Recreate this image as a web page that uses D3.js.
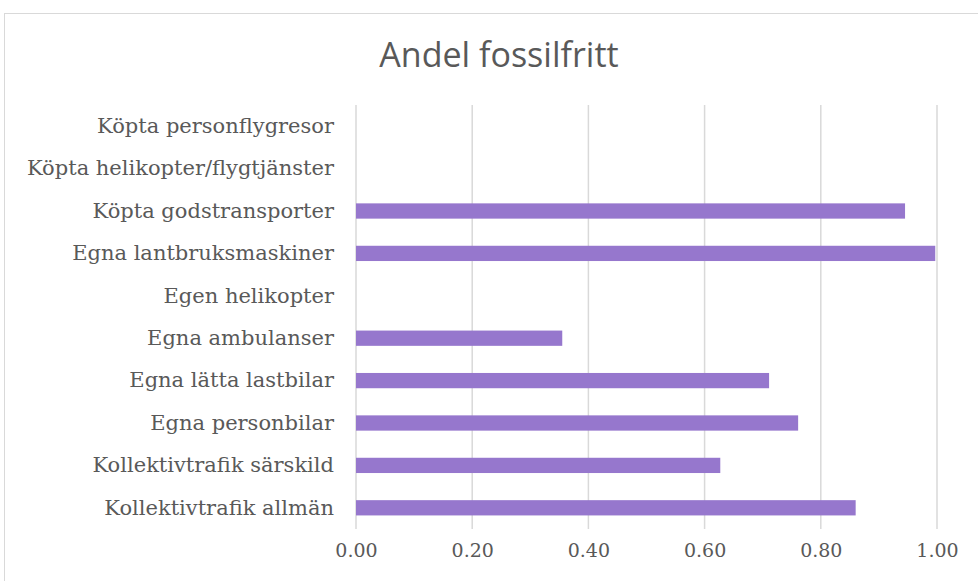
<!DOCTYPE html>
<html>
<head>
<meta charset="utf-8">
<script src="https://cdn.jsdelivr.net/npm/d3@7"></script>
<style>
    body { margin: 0; background: #fff; }
    svg { display: block; }
</style>
</head>
<body>
<script>
// Data (top to bottom)
const categories = [
    'Köpta personflygresor',
    'Köpta helikopter/flygtjänster',
    'Köpta godstransporter',
    'Egna lantbruksmaskiner',
    'Egen helikopter',
    'Egna ambulanser',
    'Egna lätta lastbilar',
    'Egna personbilar',
    'Kollektivtrafik särskild',
    'Kollektivtrafik allmän'
];
const values = [null, null, 0.945, 0.997, null, 0.355, 0.711, 0.761, 0.627, 0.86];
const xTicks = [0, 0.2, 0.4, 0.6, 0.8, 1.0];

const width = 978, height = 581;
const margin = {top: 105, right: 41, bottom: 52, left: 356};

const svg = d3.select('body').append('svg')
    .attr('width', width)
    .attr('height', height);

// chart frame
svg.append('rect')
    .attr('x', 4.5).attr('y', 13.5)
    .attr('width', 990).attr('height', 600)
    .attr('fill', '#fff')
    .attr('stroke', '#d9d9d9');

svg.append('text')
    .attr('x', 499).attr('y', 67)
    .attr('text-anchor', 'middle')
    .attr('font-family', 'Open Sans, sans-serif')
    .attr('font-size', 34)
    .attr('fill', '#595959')
    .text('Andel fossilfritt');

const x = d3.scaleLinear()
    .domain([0, 1])
    .range([margin.left, width - margin.right]);

const y = d3.scaleBand()
    .domain(categories)
    .range([margin.top, height - margin.bottom])
    .paddingInner(0.64)
    .paddingOuter(0.32);

// gridlines
svg.append('g')
    .selectAll('line')
    .data(xTicks)
    .join('line')
    .attr('x1', d => x(d)).attr('x2', d => x(d))
    .attr('y1', margin.top).attr('y2', height - margin.bottom)
    .attr('stroke', '#d9d9d9')
    .attr('stroke-width', 1.5);

// bars
svg.append('g')
    .selectAll('rect')
    .data(categories.map((c, i) => ({c, v: values[i]})).filter(d => d.v != null))
    .join('rect')
    .attr('x', x(0))
    .attr('y', d => y(d.c))
    .attr('width', d => x(d.v) - x(0))
    .attr('height', y.bandwidth())
    .attr('fill', '#9677cd');

// x axis labels
const xAxis = d3.axisBottom(x)
    .tickValues(xTicks)
    .tickFormat(d3.format('.2f'))
    .tickSize(0)
    .tickPadding(15);
const gx = svg.append('g')
    .attr('transform', `translate(0,${height - margin.bottom})`)
    .call(xAxis);
gx.select('.domain').remove();
gx.selectAll('text')
    .attr('font-family', 'DejaVu Serif, serif')
    .attr('font-size', 19)
    .attr('fill', '#595959');

// category labels
const yAxis = d3.axisLeft(y).tickSize(0).tickPadding(22);
const gy = svg.append('g')
    .attr('transform', `translate(${margin.left},0)`)
    .call(yAxis);
gy.select('.domain').remove();
gy.selectAll('text')
    .attr('font-family', 'DejaVu Serif, serif')
    .attr('font-size', 21)
    .attr('fill', '#595959');
</script>
</body>
</html>
